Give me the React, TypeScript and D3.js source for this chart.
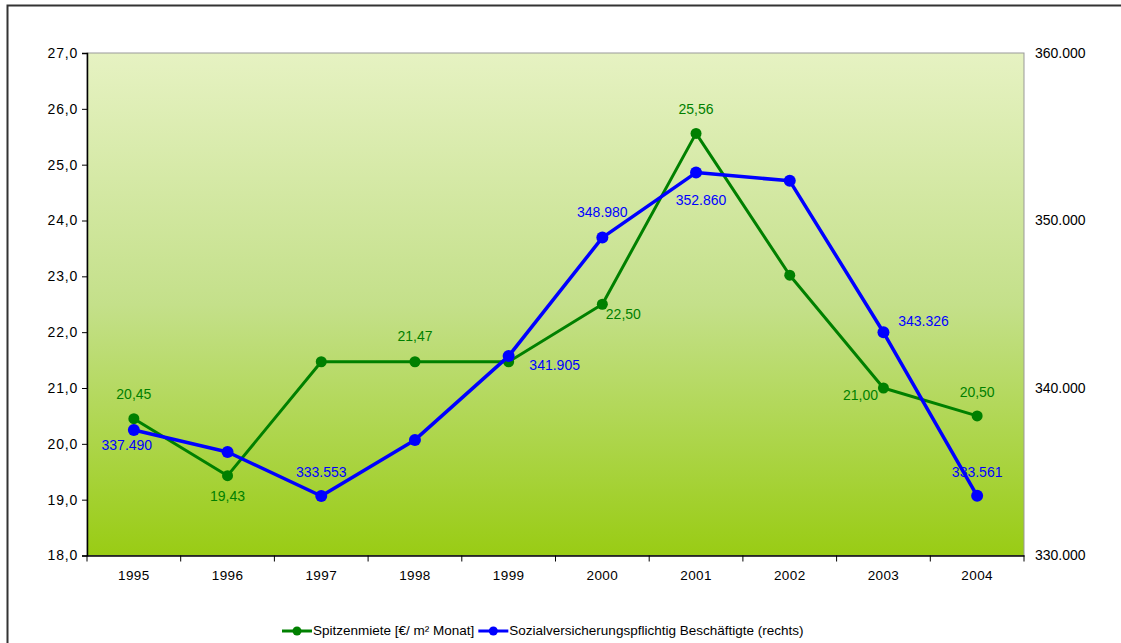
import { useEffect, useRef } from "react";
import * as d3 from "d3";

const YEARS = ["1995", "1996", "1997", "1998", "1999", "2000", "2001", "2002", "2003", "2004"];
const RENT = [20.45, 19.43, 21.47, 21.47, 21.47, 22.5, 25.56, 23.02, 21.0, 20.5];
const EMPLOYED = [337490, 336180, 333553, 336900, 341905, 348980, 352860, 352370, 343326, 333561];

const LEFT_TICKS = [18, 19, 20, 21, 22, 23, 24, 25, 26, 27];
const RIGHT_TICKS = [330000, 340000, 350000, 360000];

// which points get a label, and where it sits relative to the point (dx, dy)
const RENT_LABELS: [number, number, number][] = [
  [0, 0, -23], [1, 0, 22], [3, 0, -24], [5, 21, 11], [6, 0, -23], [8, -23, 8], [9, 0, -23],
];
const EMP_LABELS: [number, number, number][] = [
  [0, -7, 16], [2, 0, -23], [4, 46, 10], [5, 0, -24], [6, 5, 29], [8, 40, -10], [9, 0, -23],
];

const GREEN = "#008000";
const BLUE = "#0000ff";
const FONT = "Liberation Sans, Arial, sans-serif";

const fmtRent = (v: number) => v.toFixed(2).replace(".", ",");
const fmtEmp = (v: number) => d3.format(",")(v).replace(/,/g, ".");

export default function App() {
  const ref = useRef<SVGSVGElement>(null);

  useEffect(() => {
    document.body.style.margin = "0";
    document.body.style.overflow = "hidden";

    const svg = d3.select(ref.current!);
    svg.selectAll("*").remove();

    const W = 1121, H = 643;
    const m = { left: 87, right: 1024, top: 53, bottom: 555.5 };

    const x = d3.scaleBand<string>().domain(YEARS).range([m.left, m.right]);
    const yL = d3.scaleLinear().domain([18, 27]).range([m.bottom, m.top]);
    const yR = d3.scaleLinear().domain([330000, 360000]).range([m.bottom, m.top]);
    const cx = (i: number) => x(YEARS[i])! + x.bandwidth() / 2;

    svg.append("rect").attr("width", W).attr("height", H).attr("fill", "#fff");
    // outer chart border, only top and left are inside the picture
    svg.append("path")
      .attr("d", `M7.5,${H + 10}V5.5H${W + 10}`)
      .attr("fill", "none").attr("stroke", "#333").attr("stroke-width", 2);

    const defs = svg.append("defs");
    const grad = defs.append("linearGradient").attr("id", "bg").attr("x1", 0).attr("y1", 0).attr("x2", 0).attr("y2", 1);
    grad.append("stop").attr("offset", "0%").attr("stop-color", "#e6f2c2");
    grad.append("stop").attr("offset", "50%").attr("stop-color", "#c4e08a");
    grad.append("stop").attr("offset", "100%").attr("stop-color", "#99cc14");

    svg.append("rect")
      .attr("x", m.left).attr("y", m.top)
      .attr("width", m.right - m.left).attr("height", m.bottom - m.top)
      .attr("fill", "url(#bg)").attr("stroke", "#999").attr("stroke-width", 1);

    // left axis
    const gl = svg.append("g").attr("transform", `translate(${m.left},0)`)
      .call(d3.axisLeft(yL).tickValues(LEFT_TICKS).tickSize(5).tickPadding(4)
        .tickFormat((d) => (d as number).toFixed(1).replace(".", ",")));
    gl.select(".domain").attr("stroke", "#000").attr("stroke-width", 1.5);
    gl.selectAll("text").attr("font-family", FONT).attr("font-size", 14).attr("letter-spacing", 0.8).attr("fill", "#000");

    // right axis (labels only)
    const gr = svg.append("g").attr("transform", `translate(${m.right},0)`)
      .call(d3.axisRight(yR).tickValues(RIGHT_TICKS).tickSize(0).tickPadding(11)
        .tickFormat((d) => fmtEmp(d as number)));
    gr.select(".domain").remove();
    gr.selectAll("text").attr("font-family", FONT).attr("font-size", 14).attr("fill", "#000");

    // bottom axis
    const gb = svg.append("g").attr("transform", `translate(0,${m.bottom})`)
      .call(d3.axisBottom(x).tickSize(0).tickPadding(15));
    gb.select(".domain").attr("stroke", "#000").attr("stroke-width", 1.5);
    gb.selectAll("text").attr("font-family", FONT).attr("font-size", 13.5).attr("letter-spacing", 0.4).attr("fill", "#000");
    gb.selectAll("line.sep")
      .data(d3.range(YEARS.length + 1))
      .join("line")
      .attr("class", "sep")
      .attr("x1", (i) => m.left + i * x.step()).attr("x2", (i) => m.left + i * x.step())
      .attr("y1", 0).attr("y2", 6).attr("stroke", "#000");

    const drawSeries = (vals: number[], y: (v: number) => number, color: string, w: number, r: number) => {
      const line = d3.line<number>().x((_, i) => cx(i)).y((v) => y(v));
      svg.append("path").attr("d", line(vals)).attr("fill", "none")
        .attr("stroke", color).attr("stroke-width", w).attr("stroke-linejoin", "round");
      svg.append("g").selectAll("circle").data(vals).join("circle")
        .attr("cx", (_, i) => cx(i)).attr("cy", (v) => y(v)).attr("r", r).attr("fill", color);
    };
    drawSeries(RENT, yL, GREEN, 3, 5.5);
    drawSeries(EMPLOYED, yR, BLUE, 3.5, 6);

    const drawLabels = (vals: number[], y: (v: number) => number, spec: [number, number, number][],
      color: string, fmt: (v: number) => string) => {
      svg.append("g").selectAll("text").data(spec).join("text")
        .attr("x", ([i, dx]) => cx(i) + dx)
        .attr("y", ([i, , dy]) => y(vals[i]) + dy)
        .attr("text-anchor", "middle").attr("dominant-baseline", "middle")
        .attr("font-family", FONT).attr("font-size", 14).attr("fill", color)
        .text(([i]) => fmt(vals[i]));
    };
    drawLabels(RENT, yL, RENT_LABELS, GREEN, fmtRent);
    drawLabels(EMPLOYED, yR, EMP_LABELS, BLUE, fmtEmp);

    // legend
    const lg = svg.append("g").attr("font-family", FONT).attr("font-size", 13.5);
    const items = [
      { color: GREEN, text: "Spitzenmiete [€/ m² Monat]" },
      { color: BLUE, text: "Sozialversicherungspflichtig Beschäftigte (rechts)" },
    ];
    const ly = 631;
    let cursor = 282;
    items.forEach((it) => {
      lg.append("line").attr("x1", cursor).attr("x2", cursor + 30).attr("y1", ly).attr("y2", ly)
        .attr("stroke", it.color).attr("stroke-width", 3);
      lg.append("circle").attr("cx", cursor + 15).attr("cy", ly).attr("r", 4.5).attr("fill", it.color);
      const t = lg.append("text").attr("x", cursor + 31).attr("y", ly).attr("dominant-baseline", "middle")
        .attr("fill", "#000").text(it.text);
      const len = (t.node() as SVGTextElement).getComputedTextLength();
      cursor = cursor + 31 + len + 4;
    });
  }, []);

  return (
    <div style={{ position: "absolute", left: 0, top: 0, width: 1121, height: 643, overflow: "hidden" }}>
      <svg ref={ref} width={1121} height={643} style={{ display: "block" }} />
    </div>
  );
}
